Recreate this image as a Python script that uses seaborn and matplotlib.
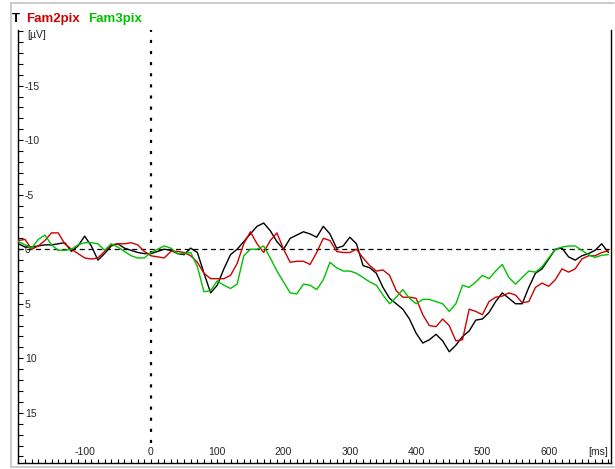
import numpy as np
import pandas as pd
import matplotlib
matplotlib.use("Agg")
import matplotlib.pyplot as plt
import seaborn as sns
from matplotlib.ticker import MultipleLocator, FixedLocator
from matplotlib.lines import Line2D
from matplotlib import font_manager as fm

# ---------------- data ----------------
time_ms = np.arange(-200, 700, 10)

t_vals = [-0.5, -0.2, -0.2, -0.3, -0.4, -0.4, -0.5, -0.6, 0.2, -0.3,
          -1.2, -0.3, 1.0, 0.4, -0.3, -0.5, -0.1, 0.1, 0.3, 0.4,
          0.4, 0.2, 0.0, 0.1, 0.4, 0.5, -0.1, 0.3, 2.2, 4.0,
          3.3, 1.8, 0.5, 0.0, -0.7, -1.4, -2.1, -2.4, -1.7, -0.7,
          0.0, -1.0, -1.3, -1.6, -1.4, -1.1, -2.1, -1.4, -0.1, -0.3,
          -1.1, -0.5, 1.5, 1.7, 2.2, 3.5, 4.5, 5.0, 5.5, 6.4,
          7.7, 8.6, 8.3, 7.8, 8.4, 9.4, 8.8, 8.0, 7.5, 6.5,
          6.4, 5.8, 4.8, 4.0, 4.5, 5.0, 5.0, 3.5, 2.2, 1.8,
          0.9, 0.0, -0.1, 0.7, 1.0, 0.6, 0.4, 0.1, -0.5, 0.3]

fam2_vals = [-0.8, -0.9, 0.0, -0.3, -0.8, -1.5, -1.5, -0.5, 0.0, 0.4,
             0.8, 0.9, 0.8, 0.2, -0.4, -0.5, -0.5, -0.6, -0.4, 0.2,
             0.6, 0.7, 0.8, 0.2, 0.2, 0.3, 0.6, 1.2, 2.2, 2.7,
             2.7, 2.7, 2.4, 1.3, -0.5, -1.6, -0.5, 0.3, -0.8, -1.5,
             0.0, 1.2, 1.1, 1.1, 1.4, 0.3, -1.0, -0.8, 0.2, 0.3,
             0.3, 0.0, 0.8, 1.5, 2.0, 1.9, 2.4, 3.8, 4.4, 4.4,
             4.5, 6.0, 7.0, 7.1, 6.4, 7.0, 8.4, 8.3, 5.5, 5.7,
             6.0, 4.8, 4.4, 4.3, 4.0, 4.2, 4.9, 4.8, 3.5, 3.1,
             3.4, 2.8, 1.8, 2.1, 1.8, 0.9, 0.6, 0.6, 0.3, 0.15]

fam3_vals = [-0.7, -0.4, -0.1, -0.9, -1.3, -0.4, 0.1, 0.1, 0.0, -0.4,
             -0.6, -0.6, -0.5, 0.1, -0.5, -0.2, 0.2, 0.6, 0.8, 0.8,
             0.3, 0.0, -0.3, -0.1, 0.4, 0.4, 0.3, 1.6, 3.9, 3.8,
             2.9, 3.3, 3.6, 3.2, 0.6, 0.0, 0.0, -0.3, 0.8, 2.0,
             3.0, 4.0, 4.1, 3.2, 3.3, 3.7, 2.8, 1.2, 1.7, 2.0,
             2.0, 2.2, 2.6, 3.0, 3.3, 4.2, 5.0, 4.4, 3.7, 4.5,
             5.0, 4.6, 4.6, 4.8, 5.0, 5.7, 5.0, 3.3, 3.5, 3.0,
             2.4, 2.7, 2.0, 1.4, 2.6, 3.2, 2.6, 2.0, 2.1, 1.6,
             0.8, 0.0, -0.2, -0.3, -0.3, 0.1, 0.5, 0.75, 0.55, 0.5]

series_names = ["T", "Fam2pix", "Fam3pix"]
series_colors = ["#000000", "#d00000", "#00c000"]
x_ticks = [-100, 0, 100, 200, 300, 400, 500, 600]
y_ticks = [-15, -10, -5, 0, 5, 10, 15]

# ---------------- style ----------------
sns.set_style("white")
names = {f.name for f in fm.fontManager.ttflist}
tick_family = ["Liberation Sans Narrow", "Liberation Sans", "DejaVu Sans"] \
    if "Liberation Sans Narrow" in names else ["Liberation Sans", "DejaVu Sans"]
plt.rcParams["font.family"] = ["Liberation Sans", "DejaVu Sans"]

df = pd.concat([
    pd.DataFrame({"time": time_ms, "value": vals, "series": name})
    for name, vals in zip(series_names, [t_vals, fam2_vals, fam3_vals])
], ignore_index=True)

W, H = 615, 469
fig = plt.figure(figsize=(W / 100, H / 100), dpi=100)
ax = fig.add_axes([18 / W, 6 / H, 593 / W, 433 / H])

ax.axhline(0, color="black", lw=0.9, ls=(0, (4, 3)), zorder=1)
# dotted stimulus-onset line, stopping just above the x tick labels
ax.axvline(0, ymin=20 / 433, ymax=1, color="black", lw=1.6,
           ls=(0, (1.4, 3.6)), zorder=1)

sns.lineplot(data=df, x="time", y="value", hue="series",
             palette=dict(zip(series_names, series_colors)),
             hue_order=series_names, estimator=None, sort=False,
             linewidth=1.0, legend=False, ax=ax, zorder=3)

ax.set_xlim(-200.6, 694)
ax.set_ylim(19.6, -20.1)
ax.set_xlabel("")
ax.set_ylabel("")

ax.xaxis.set_major_locator(FixedLocator(x_ticks))
ax.xaxis.set_minor_locator(MultipleLocator(10))
ax.yaxis.set_major_locator(FixedLocator(y_ticks))
ax.yaxis.set_minor_locator(MultipleLocator(1))
ax.set_xticklabels([str(v) for v in x_ticks])
ax.set_yticklabels([str(v) for v in y_ticks])

ax.tick_params(axis="x", which="both", direction="in", length=3, width=0.8,
               color="black", pad=-4.5, labelsize=7.5, bottom=True, top=False)
ax.tick_params(axis="y", which="both", direction="in", length=3.5, width=0.8,
               color="black", pad=-5, labelsize=7.5, left=True, right=False)
for lbl in ax.get_xticklabels():
    lbl.set_va("bottom")
    lbl.set_family(tick_family)
for lbl in ax.get_yticklabels():
    lbl.set_ha("left")
    lbl.set_family(tick_family)

for s in ["left", "bottom", "right"]:
    ax.spines[s].set_visible(True)
    ax.spines[s].set_color("black")
    ax.spines[s].set_linewidth(1.0)
ax.spines["top"].set_visible(False)
ax.grid(False)

ax.text(9 / 593, 1 - 5 / 433, "[µV]", transform=ax.transAxes, ha="left",
        va="center", fontsize=7.5, family=tick_family)
ax.text(590 / 593, 6 / 433, "[ms]", transform=ax.transAxes, ha="right",
        va="bottom", fontsize=7.5, family=tick_family)

# legend-like title texts
for xpix, name, col in zip([12, 26, 88], series_names, series_colors):
    fig.text(xpix / W, 1 - 22 / H, name, color=col, fontsize=9.5,
             fontweight="bold", ha="left", va="baseline")

# light grey outer frame
frame = [([11, 11], [2, 466]), ([11, 614], [466, 466]), ([11, 614], [2, 2])]
for xs, ys in frame:
    fig.add_artist(Line2D([x / W for x in xs], [y / H for y in ys],
                          transform=fig.transFigure, color="#c4c4c4", lw=1.2))

fig.savefig("out.png", dpi=100)
